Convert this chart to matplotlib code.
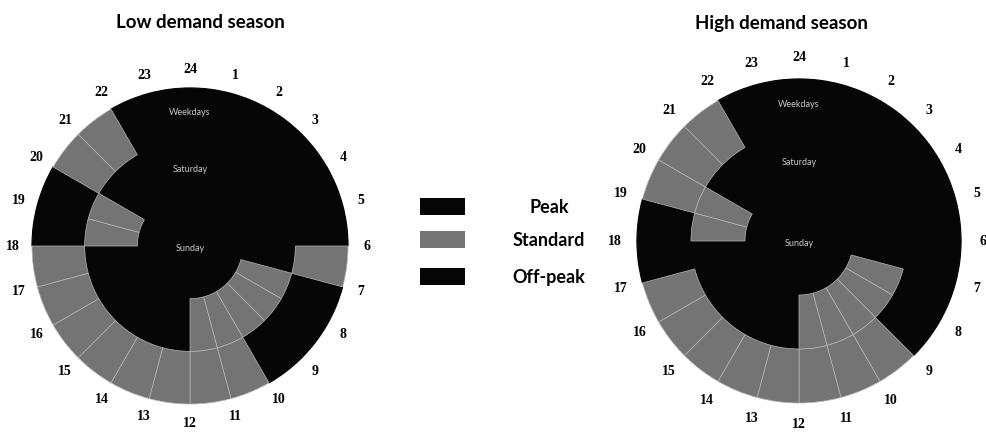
import numpy as np
import matplotlib.pyplot as plt
from matplotlib.patches import Rectangle

W, H = 987, 436

hours = list(range(1, 25))
ring_names = ["Weekdays", "Saturday", "Sunday"]

# tariff period per hour, hour h covers (h-1)..h ; P = peak, S = standard, O = off-peak
low_weekdays = list("OOOOOOSPPPSSSSSSSSPPSSOO")
low_saturday = list("OOOOOOOSSSSSOOOOOOSSOOOO")
low_sunday = list("OOOOOOOOOOOOOOOOOOOOOOOO")

high_weekdays = list("OOOOOOPPPSSSSSSSSPPSSSOO")
high_saturday = list("OOOOOOOSSSSSOOOOOOSSOOOO")
high_sunday = list("OOOOOOOOOOOOOOOOOOOOOOOO")

periods = ["Peak", "Standard", "Off-peak"]
period_codes = ["P", "S", "O"]
# scanned grey-scale look: peak and off-peak both print black
period_colors = {"P": "#060606", "S": "#747474", "O": "#060606"}

fig = plt.figure(figsize=(W / 100, H / 100), dpi=100)


def add_clock(cx, cy, r, lab_r, title, title_x, data):
    size = 2 * (lab_r + 25)
    ax = fig.add_axes([(cx - size / 2) / W, (cy - size / 2) / H, size / W, size / H])
    width = r / 3
    for i, ring in enumerate(data):
        radius = r - i * width
        wedges, _ = ax.pie([1] * len(hours), radius=radius, startangle=90,
                           counterclock=False,
                           colors=[period_colors[c] for c in ring],
                           wedgeprops=dict(width=width))
        for w, c in zip(wedges, ring):
            # same-colour edge hides the antialias seams between wedges
            w.set_edgecolor(period_colors[c])
            w.set_linewidth(0.9)
        for w, c in zip(wedges, ring):
            if c == "S":
                w.set_edgecolor("#b4b4b4")
                w.set_linewidth(0.5)
                w.set_zorder(2)
    ax.set_xlim(-size / 2, size / 2)
    ax.set_ylim(-size / 2, size / 2)
    ax.set_aspect("equal")
    ax.axis("off")

    # ring names
    ax.text(0, r - width / 2 + 2, ring_names[0], ha="center", va="center",
            fontsize=6.5, color="#c8c8c8", family="Lato", zorder=5)
    ax.text(0, r - 1.5 * width - 2, ring_names[1], ha="center", va="center",
            fontsize=6.5, color="#c8c8c8", family="Lato", zorder=5)
    ax.text(0, -2, ring_names[2], ha="center", va="center",
            fontsize=6.5, color="#c8c8c8", family="Lato", zorder=5)

    for h in hours:
        a = np.deg2rad(90 - h * 15)
        ax.text(lab_r * np.cos(a), lab_r * np.sin(a), str(h), ha="center",
                va="center", fontsize=10, fontweight="bold",
                family="Liberation Serif", clip_on=False)

    fig.text(title_x / W, 1 - 23 / H, title, ha="center", va="center",
             fontsize=13.5, fontweight="bold", family="Lato")
    return ax


add_clock(190, H - 246, 158, 177, "Low demand season", 200,
          [low_weekdays, low_saturday, low_sunday])
add_clock(799, H - 241, 162, 184, "High demand season", 781,
          [high_weekdays, high_saturday, high_sunday])

# legend
lax = fig.add_axes([0, 0, 1, 1])
lax.set_xlim(0, W)
lax.set_ylim(H, 0)
lax.axis("off")
legend_y = [206, 239, 276]
for name, code, y in zip(periods, period_codes, legend_y):
    lax.add_patch(Rectangle((420, y - 8.5), 45, 17, facecolor=period_colors[code],
                            edgecolor="none"))
    lax.text(549, y + 1, name, ha="center", va="center", fontsize=13,
             fontweight="bold", family="Lato")

fig.savefig("out.png", dpi=100)
